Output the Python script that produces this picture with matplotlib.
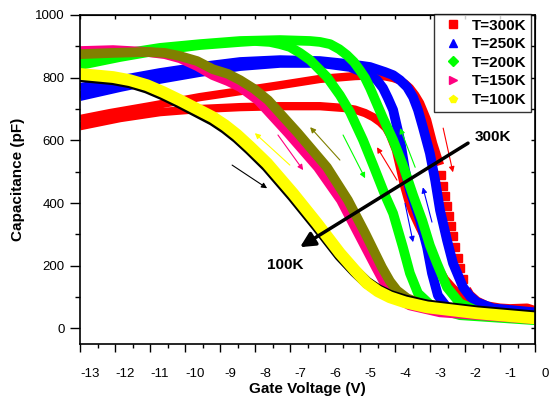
import numpy as np
import matplotlib
matplotlib.use('Agg')
import matplotlib.pyplot as plt
from matplotlib.lines import Line2D
from matplotlib import transforms

plt.rcParams['font.family'] = ['Liberation Sans', 'DejaVu Sans']

# C-V hysteresis loops, gate voltage in V, capacitance in pF
# 300 K: sweep towards 0 V (outer branch) and return sweep
v300_fwd = [-13.29, -12.43, -11.29, -9.86, -8.71, -7.57, -6.43, -5.43, -5.00, -4.57,
            -4.34, -4.14, -4.00, -3.86, -3.71, -3.57, -3.37, -3.20, -3.00, -2.96,
            -2.91, -2.86, -2.80, -2.74, -2.70, -2.64, -2.57, -2.50, -2.43, -2.34,
            -2.23, -2.14, -1.94, -1.66, -1.29, -1.00, -0.51, -0.29]
c300_fwd = [668, 687, 709, 738, 757, 776, 796, 805, 807, 804,
            799, 791, 781, 767, 745, 719, 665, 591, 521, 489,
            454, 422, 390, 358, 326, 294, 259, 224, 192, 157,
            125, 108, 88, 73, 66, 64, 66, 58]
v300_rev = [-13.29, -12.14, -11.00, -9.86, -8.71, -7.57, -6.43, -5.71, -5.43, -5.14,
            -4.91, -4.71, -4.54, -4.43, -4.26, -4.14, -4.03, -3.91, -3.77, -3.57,
            -3.37, -3.09, -2.86, -2.63, -2.37, -2.06, -1.29, -0.29]
c300_rev = [645, 671, 690, 700, 706, 709, 709, 703, 698, 687,
            674, 658, 639, 617, 569, 511, 457, 409, 367, 319,
            275, 201, 157, 128, 102, 83, 61, 51]

# 250 K
v250_fwd = [-13.29, -12.14, -11.00, -9.86, -8.71, -7.57, -6.43, -5.57, -5.00, -4.57,
            -4.34, -4.14, -3.94, -3.77, -3.63, -3.49, -3.29, -3.14, -3.00, -2.80,
            -2.63, -2.34, -2.14, -1.94, -1.49, -0.29]
c250_fwd = [767, 792, 815, 834, 850, 856, 853, 843, 834, 818,
            808, 792, 770, 738, 697, 642, 559, 473, 377, 281,
            208, 131, 102, 83, 64, 51]
v250_rev = [-13.29, -12.14, -11.00, -9.86, -8.71, -7.57, -6.43, -5.57, -5.00, -4.80,
            -4.63, -4.49, -4.34, -4.14, -4.00, -3.86, -3.57, -3.37, -3.23, -3.06,
            -2.80, -2.14, -0.29]
c250_rev = [741, 770, 796, 818, 837, 847, 847, 834, 808, 792,
            767, 735, 697, 601, 505, 441, 345, 259, 176, 105,
            67, 45, 38]

# 200 K
v200_fwd = [-13.29, -12.14, -11.00, -9.86, -8.71, -8.29, -7.86, -7.57, -7.29, -7.00,
            -6.71, -6.23, -5.86, -5.57, -5.20, -4.91, -4.57, -4.34, -4.06, -3.86,
            -3.63, -3.20, -2.43, -0.29]
c200_fwd = [840, 866, 888, 904, 914, 917, 914, 907, 898, 879,
            856, 802, 744, 690, 601, 521, 425, 367, 259, 176,
            112, 67, 42, 26]
v200_rev = [-13.29, -12.14, -11.00, -9.86, -8.71, -7.57, -6.71, -6.43, -6.14, -5.88,
            -5.66, -5.46, -5.29, -5.14, -5.00, -4.63, -4.34, -4.06, -3.77, -3.51,
            -3.29, -3.09, -2.80, -2.43, -1.86, -0.29]
c200_rev = [856, 875, 895, 907, 917, 920, 917, 914, 907, 891,
            872, 850, 824, 799, 767, 671, 601, 521, 425, 345,
            265, 208, 131, 80, 51, 32]

# 150 K
v150_fwd = [-13.29, -12.34, -11.37, -10.86, -10.43, -9.94, -9.49, -9.06, -8.71, -8.20,
            -7.34, -6.49, -5.83, -5.34, -4.83, -4.60, -4.37, -4.14, -3.86, -3.00,
            -0.29]
c150_fwd = [885, 888, 882, 875, 862, 837, 808, 789, 770, 728,
            623, 514, 409, 304, 195, 147, 112, 89, 73, 51,
            29]
v150_rev = [-13.29, -12.34, -11.37, -10.86, -10.43, -9.94, -9.49, -9.06, -8.71, -8.31,
            -7.91, -7.06, -6.23, -5.63, -5.14, -4.66, -4.43, -4.23, -3.94, -3.57,
            -2.14, -0.29]
c150_rev = [875, 879, 882, 879, 869, 853, 827, 812, 792, 764,
            728, 623, 514, 409, 304, 195, 150, 121, 96, 80,
            54, 35]

# 100 K
v100 = [-13.29, -12.34, -11.86, -11.37, -10.91, -10.43, -9.49, -9.14, -8.80, -8.43,
        -7.94, -7.57, -7.20, -6.51, -5.86, -5.43, -5.09, -4.77, -4.43, -4.00,
        -3.37, -1.94, -0.29]
c100_fwd = [805, 795, 785, 768, 746, 720, 665, 639, 609, 571,
            517, 469, 421, 326, 233, 182, 146, 122, 104, 89,
            73, 54, 38]
c100_rev = [812, 802, 792, 776, 754, 728, 674, 648, 618, 580,
            527, 479, 431, 335, 240, 185, 144, 118, 99, 83,
            67, 48, 32]

labels = ['T=300K', 'T=250K', 'T=200K', 'T=150K', 'T=100K']
colors = ['#ff0000', '#0000ff', '#00ff00', '#ff0080', '#ffff00']
markers = ['s', '^', 'D', '>', 'p']
olive = '#808000'

fig = plt.figure(figsize=(5.56, 3.98), dpi=100)
ax = fig.add_axes([80/556, 54/398, 455/556, 329/398])

band = dict(solid_capstyle='butt', solid_joinstyle='round')

# 300 K, the steep part of the outer branch shows as separate squares
v = np.array(v300_fwd)
c = np.array(c300_fwd, dtype=float)
gap = (v > -2.99) & (v < -2.24)
ax.plot(v300_rev, c300_rev, color=colors[0], lw=6, **band)
ax.plot(v, np.where(gap, np.nan, c), color=colors[0], lw=6, **band)
ax.plot(v[gap], c[gap], ls='none', marker='s', ms=6, color=colors[0], mec=colors[0])

ax.plot(v250_fwd, c250_fwd, color=colors[1], lw=7, **band)
ax.plot(v250_rev, c250_rev, color=colors[1], lw=7, **band)
ax.plot(v200_fwd, c200_fwd, color=colors[2], lw=7, **band)
ax.plot(v200_rev, c200_rev, color=colors[2], lw=7, **band)
ax.plot(v150_fwd, c150_fwd, color=colors[3], lw=7, **band)
ax.plot(v150_rev, c150_rev, color=olive, lw=7, **band)
ax.plot(v100, c100_fwd, color='black', lw=8.5, **band)
ax.plot(v100, c100_rev, color=colors[4], lw=8.5, **band)

# sweep direction arrows
small = [((-8.94, 521), (-7.94, 447), 'black'),
         ((-7.29, 521), (-8.29, 623), colors[4]),
         ((-7.63, 617), (-6.91, 505), colors[3]),
         ((-5.86, 537), (-6.71, 642), olive),
         ((-5.77, 617), (-5.14, 479), colors[2]),
         ((-4.23, 473), (-4.80, 578), colors[0]),
         ((-3.71, 514), (-4.14, 639), colors[2]),
         ((-2.91, 639), (-2.63, 498), colors[0]),
         ((-4.00, 399), (-3.77, 275), colors[1]),
         ((-3.23, 339), (-3.49, 450), colors[1])]
for start, end, col in small:
    ax.annotate('', xy=end, xytext=start,
                arrowprops=dict(arrowstyle='-|>', color=col, lw=0.8,
                                mutation_scale=8, shrinkA=0, shrinkB=0))

ax.annotate('', xy=(-7.0, 259), xytext=(-2.2, 591),
            arrowprops=dict(arrowstyle='-|>', color='black', lw=2.5,
                            mutation_scale=22, shrinkA=0, shrinkB=0))
ax.text(-1.49, 610, '300K', fontsize=11, fontweight='bold', ha='center', va='center')
ax.text(-7.43, 201, '100K', fontsize=11, fontweight='bold', ha='center', va='center')

# axes, ticks and labels
x0 = -13.286
ax.set_xlim(x0, x0 + 13)
ax.set_ylim(-50, 1000)
ax.set_xticks(x0 + np.arange(14))
ax.set_xticklabels([str(k) for k in range(-13, 1)])
ax.set_xticks(x0 + 0.5 + np.arange(13), minor=True)
ax.set_yticks(np.arange(0, 1001, 200))
ax.set_yticks(np.arange(100, 1000, 200), minor=True)
ax.tick_params(axis='x', which='major', direction='out', length=6, width=1,
               labelsize=9.5, pad=11)
ax.tick_params(axis='x', which='minor', direction='out', length=3, width=1)
ax.tick_params(axis='y', which='major', direction='out', length=7, width=1,
               labelsize=9.5, pad=4)
ax.tick_params(axis='y', which='minor', direction='out', length=3.5, width=1)
shift = transforms.ScaledTranslation(10/100, 0, fig.dpi_scale_trans)
for tick in ax.xaxis.get_major_ticks():
    tick.label1.set_transform(tick.label1.get_transform() + shift)

top = ax.secondary_xaxis('top')
top.set_xticks(x0 + np.arange(14))
top.tick_params(direction='in', length=3, width=1, labeltop=False)
right = ax.secondary_yaxis('right')
right.set_yticks(np.arange(0, 1001, 200))
right.set_yticks(np.arange(100, 1000, 200), minor=True)
right.tick_params(which='both', direction='in', length=3, width=1, labelright=False)

for sp in ax.spines.values():
    sp.set_linewidth(1.2)

ax.set_xlabel('Gate Voltage (V)', fontsize=11, fontweight='bold', labelpad=2)
ax.set_ylabel('Capacitance (pF)', fontsize=11, fontweight='bold', labelpad=7)

handles = [Line2D([], [], ls='none', marker=m, color=col, ms=6 if m != 'D' else 5)
           for m, col in zip(markers, colors)]
leg = ax.legend(handles, labels, loc='upper right', bbox_to_anchor=(0.991, 1.003),
                borderaxespad=0, frameon=True, fancybox=False, edgecolor='black',
                handlelength=1.9, handletextpad=0.25, borderpad=0.3, labelspacing=0.3,
                prop={'weight': 'bold', 'size': 11})
leg.get_frame().set_linewidth(1.0)

fig.savefig('out.png', dpi=100)
